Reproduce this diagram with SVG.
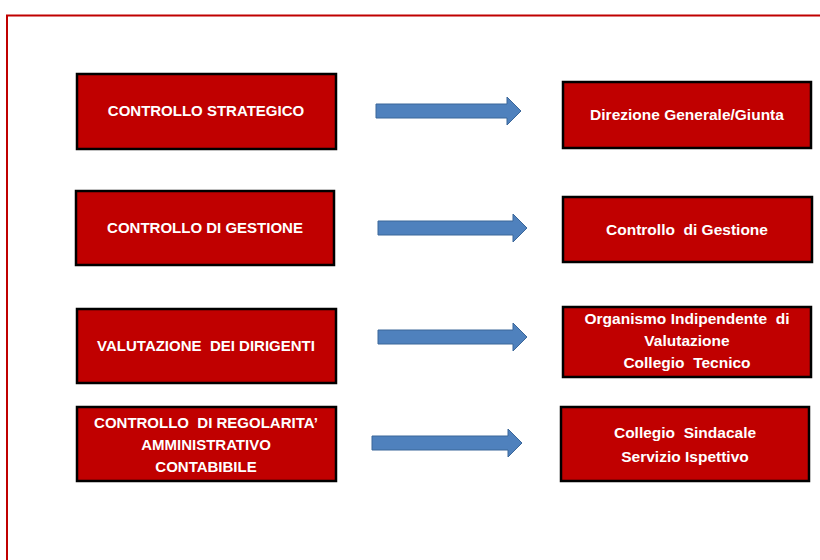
<svg xmlns="http://www.w3.org/2000/svg" width="820" height="560" viewBox="0 0 820 560">
<style>
.box{fill:#c00000;stroke:#000;stroke-width:2.5}
.t{font-family:"Liberation Sans",Arial,sans-serif;font-weight:bold;font-size:15px;fill:#fff;text-anchor:middle;white-space:pre}
.r{font-size:15.5px}
.arr{fill:#4f81bd;stroke:#3a6699;stroke-width:1}
</style>
<rect x="0" y="0" width="820" height="560" fill="#fff"/>
<path d="M7 560 V15.5 H820" fill="none" stroke="#c00000" stroke-width="2"/>
<g id="connectors">
<polygon class="arr" points="376,104 507,104 507,97 521,111 507,125 507,118 376,118"/>
<polygon class="arr" points="378,221 513,221 513,214 527,228 513,242 513,235 378,235"/>
<polygon class="arr" points="378,330 513,330 513,323 527,337 513,351 513,344 378,344"/>
<polygon class="arr" points="372,436 508,436 508,429 522,443 508,457 508,450 372,450"/>
</g>
<g id="n1"><rect class="box" x="77" y="74" width="259" height="75"/><text class="t" x="206" y="116">CONTROLLO STRATEGICO</text></g>
<g id="n2"><rect class="box" x="76" y="191" width="258" height="74"/><text class="t" x="205" y="233">CONTROLLO DI GESTIONE</text></g>
<g id="n3"><rect class="box" x="77" y="309" width="259" height="74"/><text class="t" x="206" y="351">VALUTAZIONE  DEI DIRIGENTI</text></g>
<g id="n4"><rect class="box" x="77" y="407" width="259" height="74"/><text class="t" x="206" y="428">CONTROLLO  DI REGOLARITA’</text><text class="t" x="206" y="450">AMMINISTRATIVO</text><text class="t" x="206" y="472">CONTABIBILE</text></g>
<g id="n5"><rect class="box" x="563" y="82" width="248" height="66"/><text class="t r" x="687" y="120">Direzione Generale/Giunta</text></g>
<g id="n6"><rect class="box" x="563" y="197" width="249" height="65"/><text class="t r" x="687" y="235">Controllo  di Gestione</text></g>
<g id="n7"><rect class="box" x="563" y="307" width="248" height="70"/><text class="t r" x="687" y="324">Organismo Indipendente  di</text><text class="t r" x="687" y="346">Valutazione</text><text class="t r" x="687" y="368">Collegio  Tecnico</text></g>
<g id="n8"><rect class="box" x="561" y="407" width="248" height="74"/><text class="t r" x="685" y="438">Collegio  Sindacale</text><text class="t r" x="685" y="462">Servizio Ispettivo</text></g>
</svg>
